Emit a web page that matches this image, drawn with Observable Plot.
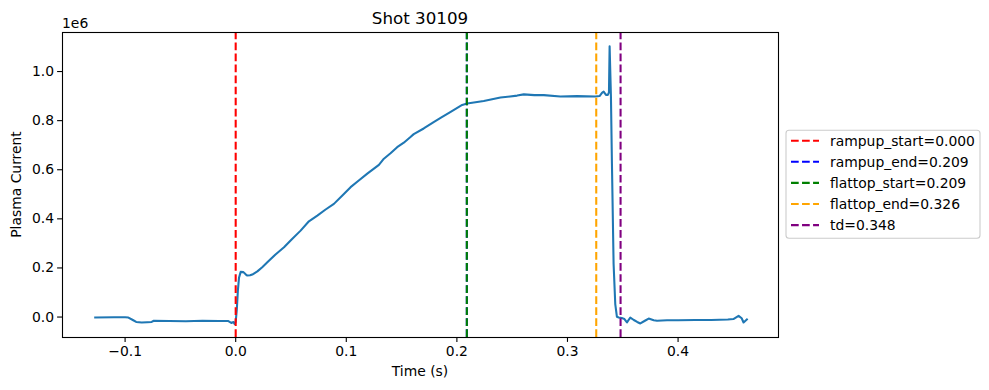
<!DOCTYPE html>
<html>
<head>
<meta charset="utf-8">
<script src="https://cdn.jsdelivr.net/npm/d3@7"></script>
<script src="https://cdn.jsdelivr.net/npm/@observablehq/plot@0.6"></script>
<style>
  html, body { margin: 0; padding: 0; background: white; }
  svg { display: block; }
</style>
</head>
<body>
<div id="chart"></div>
<script>
// Time (s)
const time = [
  -0.127, -0.110, -0.100, -0.097, -0.093, -0.090, -0.085, -0.080, -0.076, -0.074,
  -0.060, -0.045, -0.030, -0.015, -0.007, -0.004, -0.002, -0.001, 0.000, 0.001,
  0.002, 0.003, 0.0045, 0.007, 0.009, 0.0105, 0.013, 0.015, 0.0196, 0.024,
  0.0286, 0.036, 0.0437, 0.051, 0.0587, 0.0662, 0.0738, 0.0813, 0.0888, 0.096,
  0.1039, 0.111, 0.119, 0.1295, 0.134, 0.140, 0.146, 0.152, 0.1575, 0.161,
  0.170, 0.179, 0.186, 0.194, 0.2048, 0.2093, 0.2243, 0.2394, 0.2545, 0.2605,
  0.270, 0.2786, 0.2936, 0.3087, 0.3252, 0.3290, 0.3312, 0.3327, 0.3348, 0.3365,
  0.3375, 0.3381, 0.3393, 0.3402, 0.3417, 0.3432, 0.3447, 0.3463, 0.3490, 0.3515,
  0.3538, 0.3568, 0.3600, 0.3630, 0.3659, 0.3700, 0.3734, 0.3780, 0.3810, 0.3900,
  0.4000, 0.4155, 0.4300, 0.4450, 0.4500, 0.4547, 0.4575, 0.4592, 0.4622
];
// Plasma current (x 1e6)
const current = [
  -0.002, -0.001, -0.001, -0.002, -0.012, -0.020, -0.022, -0.021, -0.020, -0.015,
  -0.016, -0.017, -0.015, -0.016, -0.016, -0.024, -0.020, -0.028, -0.020, 0.030,
  0.110, 0.160, 0.184, 0.183, 0.174, 0.169, 0.170, 0.173, 0.186, 0.203,
  0.223, 0.255, 0.284, 0.318, 0.352, 0.390, 0.413, 0.438, 0.461, 0.493,
  0.529, 0.555, 0.584, 0.620, 0.645, 0.667, 0.692, 0.710, 0.731, 0.745,
  0.768, 0.794, 0.813, 0.835, 0.864, 0.870, 0.880, 0.894, 0.902, 0.907,
  0.904, 0.904, 0.898, 0.900, 0.898, 0.900, 0.913, 0.918, 0.905, 0.905,
  0.915, 1.103, 0.896, 0.624, 0.216, 0.053, 0.001, -0.002, -0.004, -0.008,
  -0.022, -0.002, -0.012, -0.020, -0.026, -0.015, -0.006, -0.013, -0.015, -0.013,
  -0.013, -0.012, -0.012, -0.010, -0.008, 0.005, -0.005, -0.022, -0.010
];
// Event markers
const eventNames = ["rampup_start", "rampup_end", "flattop_start", "flattop_end", "td"];
const eventTimes = [0.000, 0.209, 0.209, 0.326, 0.348];
const eventColors = ["red", "blue", "green", "orange", "purple"];
// Ticks
const xTicks = [-0.1, 0.0, 0.1, 0.2, 0.3, 0.4];
const yTicks = [0.0, 0.2, 0.4, 0.6, 0.8, 1.0];
const xDomain = [-0.1566, 0.4908];
const yDomain = [-0.0833, 1.159];

const series = time.map((t, i) => ({t, v: current[i]}));
const events = eventNames.map((n, i) => ({name: n, t: eventTimes[i], color: eventColors[i]}));

const W = 989, H = 390;
const mL = 62, mR = 211, mT = 32, mB = 53;
const dash = "7.7,3.33";
const font = "DejaVu Sans, sans-serif";

const chart = Plot.plot({
  width: W, height: H,
  marginLeft: mL, marginRight: mR, marginTop: mT, marginBottom: mB,
  style: {fontFamily: font, fontSize: "13.9px", background: "white", color: "black", overflow: "visible"},
  x: {domain: xDomain, label: null},
  y: {domain: yDomain, label: null},
  marks: [
    Plot.line(series, {x: "t", y: "v", stroke: "#1f77b4", strokeWidth: 2.08, strokeLinejoin: "round", strokeLinecap: "square"}),
    Plot.ruleX(events, {x: "t", y1: yDomain[0], y2: yDomain[1], stroke: "color", strokeWidth: 2.08, strokeDasharray: dash}),
    Plot.frame({stroke: "black", strokeWidth: 1.1}),
    Plot.axisX({ticks: xTicks, tickFormat: d3.format(".1f"), tickSize: 4.9, tickPadding: 3.5, strokeWidth: 1.1, fontSize: 13.9, label: null}),
    Plot.axisY({ticks: yTicks, tickFormat: d3.format(".1f"), tickSize: 4.9, tickPadding: 3.5, strokeWidth: 1.1, fontSize: 13.9, label: null})
  ]
});
document.getElementById("chart").appendChild(chart);

const svg = d3.select(chart);
const cx = (mL + (W - mR)) / 2;
svg.append("text").attr("x", cx).attr("y", 24).attr("text-anchor", "middle")
  .attr("font-family", font).attr("font-size", 16.7).attr("fill", "black").text("Shot 30109");
svg.append("text").attr("x", 62).attr("y", 27.5).attr("text-anchor", "start")
  .attr("font-family", font).attr("font-size", 13.9).attr("fill", "black").text("1e6");
svg.append("text").attr("x", cx).attr("y", 376).attr("text-anchor", "middle")
  .attr("font-family", font).attr("font-size", 13.9).attr("fill", "black").text("Time (s)");
svg.append("text").attr("transform", `translate(21,${(mT + H - mB) / 2}) rotate(-90)`).attr("text-anchor", "middle")
  .attr("font-family", font).attr("font-size", 13.9).attr("fill", "black").text("Plasma Current");

// Legend
const lg = svg.append("g").attr("text-anchor", "start");
lg.append("rect").attr("x", 786).attr("y", 130.3).attr("width", 194).attr("height", 108).attr("rx", 3)
  .attr("fill", "white").attr("fill-opacity", 0.8).attr("stroke", "#cccccc").attr("stroke-width", 1.1);
events.forEach((e, i) => {
  const y = 140.7 + i * 21.1;
  lg.append("line").attr("x1", 791).attr("x2", 819).attr("y1", y).attr("y2", y)
    .attr("stroke", e.color).attr("stroke-width", 2.08).attr("stroke-dasharray", dash);
  lg.append("text").attr("x", 830).attr("y", y).attr("dy", "0.35em").attr("text-anchor", "start")
    .attr("font-family", font).attr("font-size", 13.9).attr("fill", "black")
    .text(`${e.name}=${e.t.toFixed(3)}`);
});
</script>
</body>
</html>
